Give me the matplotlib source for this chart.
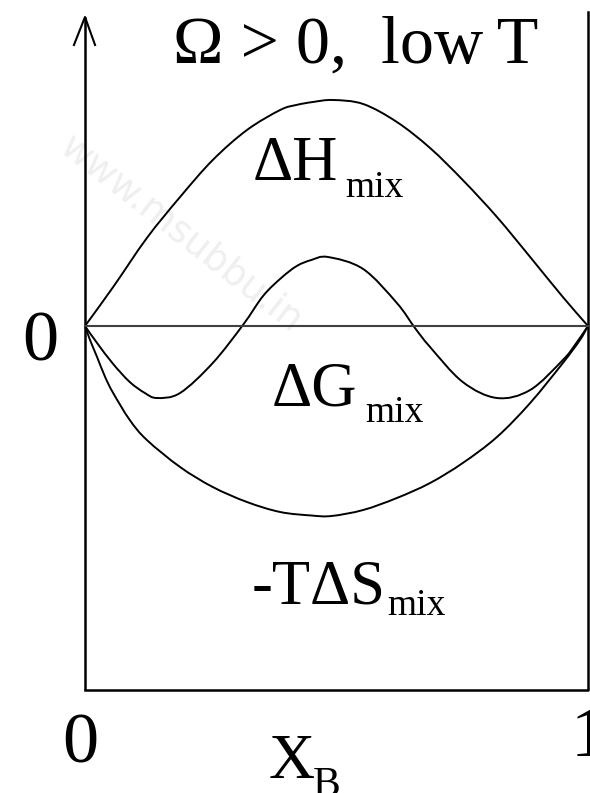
import numpy as np
import matplotlib.pyplot as plt
from matplotlib.path import Path
from matplotlib.patches import PathPatch

plt.rcParams['font.family'] = ['Liberation Serif', 'DejaVu Serif']

# composition X_B and the three mixing curves (schematic units)
x_h = [0, 0.056, 0.123, 0.189, 0.254, 0.322, 0.388, 0.42, 0.453, 0.493, 0.553,
       0.620, 0.686, 0.751, 0.819, 0.885, 0.950, 1.0]
dH = [0, 0.39, 0.88, 1.29, 1.66, 1.96, 2.16, 2.21, 2.24, 2.26, 2.22,
      2.04, 1.78, 1.46, 1.09, 0.69, 0.29, 0]

x_g = [0, 0.024, 0.056, 0.089, 0.119, 0.143, 0.189, 0.254, 0.314, 0.354, 0.39, 0.421,
       0.45, 0.483, 0.553, 0.620, 0.656, 0.686, 0.751, 0.819, 0.885, 0.950, 0.974, 1.0]
dG = [0, -0.17, -0.38, -0.56, -0.67, -0.72, -0.67, -0.37, 0.01, 0.30, 0.48, 0.60,
      0.66, 0.69, 0.57, 0.23, -0.02, -0.21, -0.56, -0.72, -0.64, -0.34, -0.19, 0]

x_s = [0, 0.010, 0.024, 0.040, 0.056, 0.089, 0.123, 0.189, 0.254, 0.322, 0.388,
       0.45, 0.49, 0.553, 0.620, 0.686, 0.751, 0.819, 0.885, 0.950, 0.984, 1.0]
mTdS = [0, -0.14, -0.31, -0.51, -0.67, -0.94, -1.14, -1.41, -1.61, -1.76, -1.86,
        -1.895, -1.90, -1.84, -1.72, -1.57, -1.37, -1.11, -0.77, -0.37, -0.14, 0]

y_bottom = -3.64
y_top = 3.09


def smooth_path(xs, ys):
    # Catmull-Rom through the points, written as cubic Bezier segments
    p = np.column_stack([xs, ys]).astype(float)
    p = np.vstack([2 * p[0] - p[1], p, 2 * p[-1] - p[-2]])
    verts = [p[1]]
    codes = [Path.MOVETO]
    for i in range(1, len(p) - 2):
        c1 = p[i] + (p[i + 1] - p[i - 1]) / 6
        c2 = p[i + 1] - (p[i + 2] - p[i]) / 6
        verts += [c1, c2, p[i + 1]]
        codes += [Path.CURVE4] * 3
    return Path(verts, codes)


fig = plt.figure(figsize=(5.9, 7.93), dpi=100)
ax = fig.add_axes([0, 0, 1, 1])
ax.set_xlim(-85 / 503, 505 / 503)
ax.set_ylim(-4.67, 3.26)
ax.axis('off')

# frame: y axis with open arrow, bottom and right side
ax.plot([0, 0], [y_bottom, y_top], color='black', lw=1.8, solid_capstyle='butt')
ax.plot([-0.022, 0, 0.020], [y_top - 0.28, y_top, y_top - 0.28], color='black', lw=1.5)
ax.plot([0, 1, 1], [y_bottom, y_bottom, 3.14], color='black', lw=1.8)
ax.plot([0, 1], [0, 0], color='#404040', lw=1.5)

for xs, ys in [(x_h, dH), (x_g, dG), (x_s, mTdS)]:
    ax.add_patch(PathPatch(smooth_path(xs, ys), fill=False, edgecolor='black',
                           lw=1.4, joinstyle='round'))

# watermark
ax.text(0.19, 0.92, 'www.msubbu.in', family='DejaVu Sans', fontsize=27,
        color='#efefef', rotation=-38, ha='center', va='center', zorder=0)

ax.text(0.175, 2.63, 'Ω > 0,  low\u2009T', fontsize=49, ha='left', va='baseline')

ax.text(0.334, 1.46, 'ΔH', fontsize=45, ha='left', va='baseline')
ax.text(0.517, 1.29, 'mix', fontsize=27, ha='left', va='baseline')
ax.text(0.372, -0.79, 'ΔG', fontsize=45, ha='left', va='baseline')
ax.text(0.557, -0.96, 'mix', fontsize=27, ha='left', va='baseline')
ax.text(0.332, -2.77, '-TΔS', fontsize=45, ha='left', va='baseline')
ax.text(0.600, -2.89, 'mix', fontsize=27, ha='left', va='baseline')

ax.text(-0.125, -0.34, '0', fontsize=52, ha='left', va='baseline')
ax.text(-0.046, -4.36, '0', fontsize=52, ha='left', va='baseline')
ax.text(0.965, -4.30, '1', fontsize=52, ha='left', va='baseline')
ax.text(0.366, -4.52, 'X', fontsize=46, ha='left', va='baseline')
ax.text(0.452, -4.70, 'B', fontsize=30, ha='left', va='baseline')

fig.savefig('out.png', dpi=100)
